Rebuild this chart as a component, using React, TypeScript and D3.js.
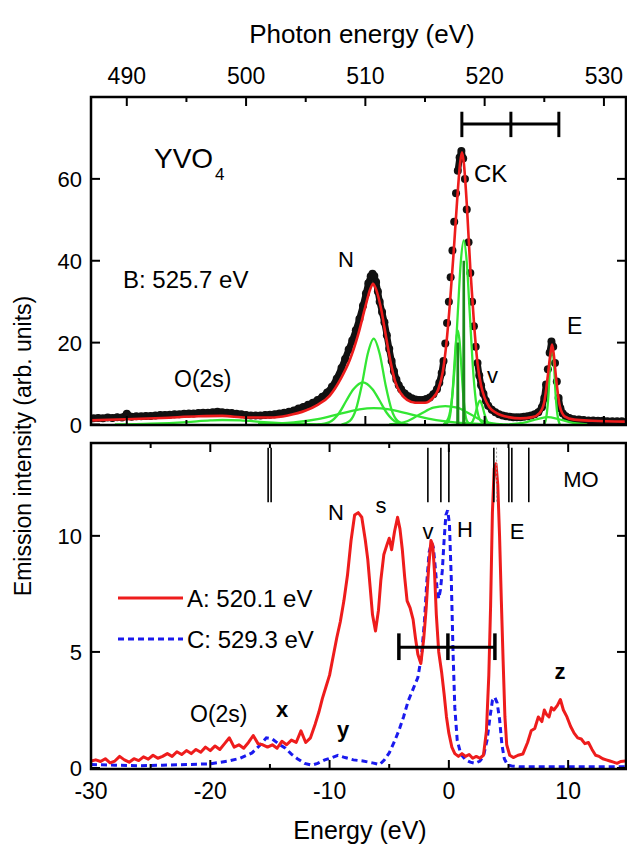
import React from 'react'
import * as d3 from 'd3'

// ---- upper panel (YVO4, excitation B: 525.7 eV), [energy eV, intensity] ----
const dotsB: [number, number][] = [
  [-29.8, 1.5], [-29.4, 1.6], [-29.0, 1.5], [-28.6, 1.7], [-28.2, 1.6], [-27.8, 1.8], [-27.4, 1.7],
  [-27.0, 2.6], [-26.6, 1.9], [-26.2, 2.0], [-25.8, 2.0], [-25.4, 2.1], [-25.0, 2.1], [-24.6, 2.2],
  [-24.2, 2.3], [-23.8, 2.3], [-23.4, 2.4], [-23.0, 2.5], [-22.6, 2.5], [-22.2, 2.6], [-21.8, 2.7],
  [-21.4, 2.7], [-21.0, 2.8], [-20.6, 2.9], [-20.2, 2.9], [-19.8, 3.0], [-19.4, 3.1], [-19.0, 3.0],
  [-18.6, 2.9], [-18.2, 2.8], [-17.8, 2.6], [-17.4, 2.5], [-17.0, 2.3], [-16.6, 2.2], [-16.2, 2.2],
  [-15.8, 2.2], [-15.4, 2.3], [-15.0, 2.4], [-14.6, 2.5], [-14.2, 2.7], [-13.8, 2.9], [-13.4, 3.1],
  [-13.0, 3.4], [-12.6, 3.9], [-12.2, 4.3], [-11.8, 4.8], [-11.4, 5.3], [-11.0, 6.0], [-10.6, 6.8],
  [-10.2, 7.8], [-9.8, 9.2], [-9.4, 11.2], [-9.0, 13.8], [-8.7, 16.0], [-8.4, 18.3], [-8.1, 20.5],
  [-7.8, 23.0], [-7.5, 25.8], [-7.2, 29.0], [-6.95, 32.0], [-6.75, 34.5], [-6.55, 36.2], [-6.4, 36.8],
  [-6.25, 36.3], [-6.1, 34.8], [-5.95, 32.5], [-5.8, 30.0], [-5.6, 27.5], [-5.4, 25.0], [-5.2, 21.8],
  [-5.0, 18.5], [-4.8, 15.5], [-4.6, 13.0], [-4.4, 11.0], [-4.2, 9.6], [-4.0, 8.6], [-3.7, 7.6],
  [-3.4, 6.9], [-3.1, 6.4], [-2.8, 6.1], [-2.5, 6.0], [-2.2, 6.0], [-1.9, 6.2], [-1.6, 6.6],
  [-1.3, 7.4], [-1.0, 8.6], [-0.8, 10.2], [-0.6, 12.6], [-0.45, 15.5], [-0.3, 19.8], [-0.15, 24.8],
  [0.0, 30.0], [0.15, 36.0], [0.3, 42.5], [0.45, 49.5], [0.6, 56.5], [0.75, 62.0], [0.9, 65.2],
  [1.05, 66.8], [1.2, 65.0], [1.35, 60.0], [1.5, 52.5], [1.65, 44.5], [1.8, 37.0], [1.95, 30.0],
  [2.1, 24.0], [2.25, 19.0], [2.4, 15.0], [2.55, 12.0], [2.7, 9.6], [2.9, 7.5], [3.1, 5.8],
  [3.3, 4.6], [3.6, 3.6], [3.9, 3.0], [4.2, 2.5], [4.5, 2.2], [4.8, 2.0], [5.1, 1.9], [5.4, 1.8],
  [5.7, 1.8], [6.0, 1.8], [6.3, 1.9], [6.6, 2.0], [6.9, 2.2], [7.2, 2.5], [7.5, 3.0], [7.8, 4.2],
  [8.0, 6.5], [8.15, 9.8], [8.3, 13.5], [8.45, 17.5], [8.6, 20.3], [8.75, 19.0], [8.9, 15.0],
  [9.05, 10.5], [9.2, 6.5], [9.35, 4.0], [9.55, 2.7], [9.8, 2.0], [10.1, 1.6], [10.5, 1.3],
  [10.9, 1.2], [11.3, 1.1], [11.7, 1.0], [12.1, 1.0], [12.5, 0.9], [12.9, 0.9], [13.3, 0.8],
  [13.7, 0.8], [14.1, 0.8], [14.5, 0.8],
]

const fitB: [number, number][] = [
  [-30, 1.0], [-27, 1.3], [-24, 1.6], [-21, 2.0], [-19, 2.1], [-17, 1.7], [-15, 1.7], [-13.5, 2.2],
  [-12, 3.4], [-11, 4.8], [-10, 7.0], [-9, 11.5], [-8.3, 15.8], [-7.6, 22.0], [-7.0, 28.8],
  [-6.6, 33.0], [-6.35, 34.4], [-6.1, 33.0], [-5.7, 28.5], [-5.3, 22.0], [-4.9, 15.5], [-4.5, 10.5],
  [-4.0, 7.5], [-3.5, 6.0], [-2.8, 5.3], [-2.0, 5.3], [-1.4, 6.3], [-0.9, 8.5], [-0.5, 13.0],
  [-0.2, 20.0], [0.1, 30.0], [0.4, 42.0], [0.7, 55.0], [0.95, 64.0], [1.1, 66.5], [1.25, 64.0],
  [1.5, 54.0], [1.8, 38.0], [2.1, 25.0], [2.4, 15.0], [2.7, 9.5], [3.0, 6.5], [3.4, 4.2],
  [4.0, 2.8], [5.0, 1.8], [6.0, 1.5], [7.0, 1.8], [7.6, 2.8], [8.0, 5.5], [8.3, 12.0],
  [8.5, 17.0], [8.65, 19.5], [8.8, 17.0], [9.0, 11.0], [9.3, 4.5], [9.7, 2.0], [10.5, 1.2],
  [12, 0.9], [14.8, 0.7],
]

// fitted components (green)
const compO2s: [number, number][] = [
  [-28, 0], [-25, 0.2], [-22, 0.6], [-20, 1.0], [-19, 1.1], [-17.5, 1.0], [-15.5, 0.6], [-13, 0.2], [-10, 0],
]
const compWide: [number, number][] = [
  [-16, 0.1], [-13, 0.5], [-11, 1.3], [-9, 2.7], [-7.5, 3.7], [-6.3, 4.0], [-5, 3.7], [-3.5, 2.7],
  [-1.5, 1.3], [0.5, 0.5], [3, 0.1], [5, 0],
]
const compN2: [number, number][] = [
  [-11, 0], [-10, 0.6], [-9.2, 2.8], [-8.6, 5.8], [-8, 8.6], [-7.2, 10.3], [-6.4, 8.6], [-5.8, 5.8],
  [-5.2, 2.8], [-4.4, 0.6], [-3.4, 0],
]
const compN1: [number, number][] = [
  [-9, 0], [-8.3, 0.9], [-7.8, 3.6], [-7.3, 9.6], [-6.8, 17.3], [-6.3, 21], [-5.8, 17.3], [-5.3, 9.6],
  [-4.8, 3.6], [-4.3, 0.9], [-3.6, 0],
]
const compBase: [number, number][] = [
  [-5, 0], [-3.5, 0.8], [-2.3, 2.7], [-1.3, 4.1], [-0.3, 4.5], [0.7, 4.1], [1.7, 2.7], [2.9, 0.8], [4.5, 0],
]
const compCK2: [number, number][] = [
  [-0.35, 0], [-0.05, 0.7], [0.15, 3.1], [0.3, 7.5], [0.45, 14], [0.6, 20.3], [0.75, 23], [0.9, 20.3],
  [1.05, 14], [1.2, 7.5], [1.35, 3.1], [1.55, 0.7], [1.85, 0],
]
const compCK1: [number, number][] = [
  [-0.45, 0], [-0.05, 1.5], [0.25, 6.1], [0.5, 14.6], [0.75, 27.3], [1.0, 39.7], [1.25, 45], [1.5, 39.7],
  [1.75, 27.3], [2.0, 14.6], [2.25, 6.1], [2.55, 1.5], [2.95, 0],
]
const compV: [number, number][] = [
  [1.7, 0], [2.0, 0.8], [2.2, 2.4], [2.4, 4.6], [2.6, 5.8], [2.8, 4.6], [3.0, 2.4], [3.2, 0.8], [3.5, 0],
]
const compE: [number, number][] = [
  [8.0, 0], [8.2, 2.4], [8.35, 7.3], [8.5, 15.4], [8.65, 19], [8.8, 15.4], [8.95, 7.3], [9.1, 2.4], [9.3, 0],
]
const compEbroad: [number, number][] = [
  [5, 0], [6.5, 0.6], [7.5, 1.4], [8.3, 1.8], [9.1, 1.4], [10.1, 0.6], [11.6, 0],
]
const greenComps = [compO2s, compWide, compN2, compN1, compBase, compCK2, compCK1, compV, compE, compEbroad]
// two very narrow components (dark green sticks)
const stickE = [0.75, 1.25]
const stickH = [20, 40]

// ---- lower panel (MO), excitation A (red) and C (blue) ----
const spectrumA: [number, number][] = [
  [-30, 0.3], [-29.6, 0.35], [-29.2, 0.28], [-28.8, 0.4], [-28.4, 0.22], [-28, 0.3], [-27.6, 0.5],
  [-27.2, 0.35], [-26.8, 0.25], [-26.4, 0.4], [-26, 0.32], [-25.6, 0.48], [-25.2, 0.38], [-24.8, 0.55],
  [-24.4, 0.42], [-24, 0.5], [-23.6, 0.62], [-23.2, 0.5], [-22.8, 0.7], [-22.4, 0.58], [-22, 0.75],
  [-21.6, 0.62], [-21.2, 0.8], [-20.8, 0.68], [-20.4, 0.9], [-20, 0.75], [-19.6, 0.95], [-19.2, 0.8],
  [-18.8, 1.05], [-18.4, 1.3], [-18, 0.9], [-17.6, 1.0], [-17.2, 0.85], [-16.8, 1.1], [-16.4, 1.4],
  [-16, 1.05], [-15.6, 1.0], [-15.2, 0.9], [-14.8, 1.0], [-14.4, 0.85], [-14, 1.15], [-13.6, 1.0],
  [-13.2, 1.2], [-12.8, 1.1], [-12.4, 1.6], [-12, 1.1], [-11.6, 1.3], [-11.2, 1.9], [-10.9, 2.4],
  [-10.6, 3.0], [-10.3, 3.5], [-10, 4.0], [-9.7, 4.8], [-9.4, 5.6], [-9.1, 6.3], [-8.8, 7.2],
  [-8.5, 8.3], [-8.2, 9.8], [-7.9, 10.9], [-7.6, 11.0], [-7.3, 10.8], [-7.0, 9.8], [-6.8, 9.0],
  [-6.6, 7.8], [-6.4, 6.6], [-6.15, 5.9], [-5.9, 6.8], [-5.7, 8.1], [-5.45, 9.2], [-5.2, 9.6],
  [-5.0, 9.9], [-4.8, 9.4], [-4.55, 10.2], [-4.3, 10.8], [-4.1, 10.3], [-3.9, 9.4], [-3.7, 8.2],
  [-3.5, 7.2], [-3.25, 6.9], [-3.0, 6.4], [-2.8, 5.6], [-2.6, 4.9], [-2.35, 4.5], [-2.1, 5.6],
  [-1.9, 6.9], [-1.7, 8.6], [-1.5, 9.8], [-1.35, 9.6], [-1.2, 8.4], [-1.05, 6.6], [-0.85, 5.0],
  [-0.6, 4.1], [-0.4, 3.2], [-0.2, 2.2], [0, 1.5], [0.25, 0.9], [0.5, 0.62], [0.8, 0.5], [1.1, 0.62],
  [1.4, 0.5], [1.7, 0.58], [2.0, 0.42], [2.3, 0.5], [2.6, 0.42], [2.9, 0.55], [3.15, 1.6], [3.35, 4.0],
  [3.5, 7.0], [3.65, 11.0], [3.8, 12.9], [3.95, 13.1], [4.1, 12.2], [4.25, 10.0], [4.4, 7.2],
  [4.55, 4.6], [4.7, 2.2], [4.85, 1.0], [5.1, 0.55], [5.4, 0.45], [5.8, 0.55], [6.2, 0.6], [6.6, 1.1],
  [6.9, 1.6], [7.2, 1.7], [7.5, 2.2], [7.8, 2.0], [8.0, 2.5], [8.2, 2.3], [8.4, 2.2], [8.6, 2.6],
  [8.8, 2.5], [9.1, 2.7], [9.35, 2.95], [9.6, 2.5], [9.9, 2.2], [10.2, 1.8], [10.5, 1.5], [10.8, 1.3],
  [11.1, 1.25], [11.4, 1.05], [11.7, 1.1], [12.0, 0.8], [12.3, 0.55], [12.6, 0.5], [12.9, 0.4],
  [13.2, 0.35], [13.5, 0.3], [13.8, 0.25], [14.1, 0.2], [14.4, 0.28], [14.8, 0.3],
]

const spectrumC: [number, number][] = [
  [-30, 0.15], [-28, 0.12], [-26, 0.1], [-24, 0.12], [-22, 0.15], [-20, 0.18], [-18.5, 0.3],
  [-17.5, 0.42], [-16.5, 0.65], [-15.8, 1.0], [-15.3, 1.3], [-14.8, 1.25], [-14.3, 1.05], [-13.7, 0.85],
  [-13.2, 0.6], [-12.7, 0.4], [-12.1, 0.2], [-11.5, 0.12], [-11, 0.2], [-10.4, 0.35], [-9.8, 0.45],
  [-9.3, 0.55], [-8.7, 0.45], [-8, 0.35], [-7.2, 0.3], [-6.4, 0.22], [-5.8, 0.15], [-5.4, 0.35],
  [-5.0, 0.65], [-4.6, 1.1], [-4.2, 1.6], [-3.8, 2.2], [-3.4, 2.9], [-3.0, 3.4], [-2.6, 3.9],
  [-2.3, 4.8], [-2.05, 6.3], [-1.85, 8.0], [-1.65, 9.3], [-1.45, 9.7], [-1.3, 9.5], [-1.15, 8.7],
  [-1.0, 7.8], [-0.85, 7.3], [-0.7, 7.7], [-0.55, 8.5], [-0.4, 9.8], [-0.25, 10.9], [-0.1, 11.1],
  [0.05, 10.5], [0.2, 8.2], [0.35, 5.0], [0.5, 2.6], [0.7, 1.2], [1.0, 0.6], [1.4, 0.35], [1.8, 0.25],
  [2.2, 0.2], [2.6, 0.3], [2.9, 0.5], [3.2, 1.2], [3.45, 2.2], [3.65, 2.9], [3.85, 3.05], [4.05, 2.8],
  [4.25, 2.1], [4.45, 1.0], [4.65, 0.4], [4.9, 0.15], [5.3, 0.08], [6, 0.05], [8, 0.05], [10, 0.05],
  [12, 0.05], [14.8, 0.05],
]

// MO level markers (energies, eV) and the two brackets
const moLevels = [-15.15, -14.9, -1.76, -0.67, 0.0, 3.77, 5.03, 5.28, 6.7]
const bracketUpper = [1.09, 5.2, 9.22]
const bracketLower = [-4.19, -0.08, 3.86]

const photonTicks = [490, 495, 500, 505, 510, 515, 520, 525, 530]
const energyTicks = [-30, -25, -20, -15, -10, -5, 0, 5, 10]
const upperYTicks = [0, 20, 40, 60]
const lowerYTicks = [0, 5, 10]
const PHOTON_OFFSET = 517

const FONT = 'Liberation Sans, Arial, sans-serif'
const RED = '#ee1c1c'
const BLUE = '#1a1aee'
const GREEN = '#33e633'

const L = 91, R = 626
const UT = 97, UB = 425
const LT = 443, LB = 769

export default function App() {
  const x = d3.scaleLinear().domain([-30, 14.85]).range([L, R])
  const xPh = d3.scaleLinear().domain([-30 + PHOTON_OFFSET, 14.85 + PHOTON_OFFSET]).range([L, R])
  const yU = d3.scaleLinear().domain([0, 80]).range([424.5, UT])
  const yL = d3.scaleLinear().domain([0, 14]).range([768, LT])

  const lineU = d3.line<[number, number]>().x(d => x(d[0])).y(d => yU(d[1])).curve(d3.curveMonotoneX)
  const lineUlin = d3.line<[number, number]>().x(d => x(d[0])).y(d => yU(d[1]))
  const lineL = d3.line<[number, number]>().x(d => x(d[0])).y(d => yL(d[1]))

  // dense data reads as a solid band; on steep flanks the single points show
  const bandSegs = d3.pairs(dotsB).filter(([a, b]) => Math.abs(yU(a[1]) - yU(b[1])) < 14)

  const tick = (major: boolean) => (major ? 9 : 5)

  return (
    <svg width={627} height={846} style={{ position: 'absolute', left: 0, top: 0, background: '#fff' }}
      fontFamily={FONT}>
      <rect width={627} height={846} fill="#fff" />
      <defs>
        <clipPath id="clipU"><rect x={L} y={UT} width={R - L} height={UB - UT} /></clipPath>
        <clipPath id="clipL"><rect x={L} y={LT} width={R - L} height={LB - LT} /></clipPath>
      </defs>

      {/* titles */}
      <text x={362} y={43} fontSize={26} textAnchor="middle">Photon energy (eV)</text>
      <text x={360} y={839} fontSize={25} textAnchor="middle">Energy (eV)</text>
      <text transform="translate(31,446) rotate(-90)" fontSize={23} textAnchor="middle">
        Emission intensity (arb. units)
      </text>

      {/* ===== upper panel ===== */}
      <g clipPath="url(#clipU)">
        {bandSegs.map((s, i) => (
          <path key={'b' + i} d={lineUlin(s) || ''} fill="none" stroke="#111" strokeWidth={6.5} strokeLinecap="round" />
        ))}
        {dotsB.map((d, i) => (
          <circle key={i} cx={x(d[0])} cy={yU(d[1])} r={4} fill="#111" />
        ))}
        {greenComps.map((c, i) => (
          <path key={i} d={lineU(c) || ''} fill="none" stroke={GREEN} strokeWidth={2.3} />
        ))}
        {stickE.map((e, i) => (
          <path key={'s' + i} d={lineUlin([[e - 0.03, 0], [e, stickH[i]], [e + 0.03, 0]]) || ''}
            fill="none" stroke="#1a8a1a" strokeWidth={2.5} />
        ))}
        <path d={lineU(fitB) || ''} fill="none" stroke={RED} strokeWidth={2.6} />
      </g>
      <rect x={L} y={UT} width={R - L} height={UB - UT} fill="none" stroke="#000" strokeWidth={2.5} />
      {photonTicks.map(t => (
        <g key={t}>
          <line x1={xPh(t)} x2={xPh(t)} y1={UT} y2={UT + tick(t % 10 === 0)} stroke="#000" strokeWidth={2} />
          <line x1={xPh(t)} x2={xPh(t)} y1={UB} y2={UB - tick(t % 10 === 0)} stroke="#000" strokeWidth={2} />
          {t % 10 === 0 && (
            <text x={xPh(t)} y={84} fontSize={23} textAnchor="middle">{t}</text>
          )}
        </g>
      ))}
      {upperYTicks.map(t => (
        <g key={t}>
          <line x1={L} x2={L + 9} y1={yU(t)} y2={yU(t)} stroke="#000" strokeWidth={2} />
          <line x1={R} x2={R - 9} y1={yU(t)} y2={yU(t)} stroke="#000" strokeWidth={2} />
          <text x={82} y={yU(t) + 8} fontSize={22} textAnchor="end">{t}</text>
        </g>
      ))}
      {/* CK bracket */}
      <line x1={x(bracketUpper[0])} x2={x(bracketUpper[2])} y1={yU(73.4)} y2={yU(73.4)} stroke="#000" strokeWidth={3} />
      {bracketUpper.map((e, i) => (
        <line key={i} x1={x(e)} x2={x(e)} y1={yU(76.4)} y2={yU(70.2)} stroke="#000" strokeWidth={3} />
      ))}
      <text x={154} y={168} fontSize={28}>YVO</text>
      <text x={215} y={180} fontSize={17}>4</text>
      <text x={123} y={288} fontSize={24}>B: 525.7 eV</text>
      <text x={346} y={267} fontSize={22} textAnchor="middle">N</text>
      <text x={474} y={182} fontSize={24}>CK</text>
      <text x={567} y={334} fontSize={23}>E</text>
      <text x={487} y={383} fontSize={22}>v</text>
      <text x={174} y={387} fontSize={23}>O(2s)</text>

      {/* ===== lower panel ===== */}
      <g clipPath="url(#clipL)">
        <path d={lineL(spectrumC) || ''} fill="none" stroke={BLUE} strokeWidth={3} strokeDasharray="6,4" />
        <path d={lineL(spectrumA) || ''} fill="none" stroke={RED} strokeWidth={3} strokeLinejoin="round" />
      </g>
      {moLevels.map((e, i) => (
        <line key={i} x1={x(e)} x2={x(e)} y1={yL(13.8)} y2={yL(11.45)} stroke="#000" strokeWidth={1.6} />
      ))}
      <line x1={x(4.0)} x2={x(4.0)} y1={yL(13.8)} y2={yL(11.45)} stroke="#999" strokeWidth={1} strokeDasharray="2,2" />
      <line x1={x(bracketLower[0])} x2={x(bracketLower[2])} y1={yL(5.2)} y2={yL(5.2)} stroke="#000" strokeWidth={3} />
      {bracketLower.map((e, i) => (
        <line key={i} x1={x(e)} x2={x(e)} y1={yL(5.8)} y2={yL(4.65)} stroke="#000" strokeWidth={3.5} />
      ))}
      <rect x={L} y={LT} width={R - L} height={LB - LT} fill="none" stroke="#000" strokeWidth={2.5} />
      {energyTicks.map(t => (
        <g key={t}>
          <line x1={x(t)} x2={x(t)} y1={LT} y2={LT + tick(t % 10 === 0)} stroke="#000" strokeWidth={2} />
          <line x1={x(t)} x2={x(t)} y1={LB} y2={LB - tick(t % 10 === 0)} stroke="#000" strokeWidth={2} />
          {t % 10 === 0 && (
            <text x={x(t)} y={799} fontSize={23} textAnchor="middle">{t}</text>
          )}
        </g>
      ))}
      {lowerYTicks.map(t => (
        <g key={t}>
          <line x1={L} x2={L + 9} y1={yL(t)} y2={yL(t)} stroke="#000" strokeWidth={2} />
          <line x1={R} x2={R - 9} y1={yL(t)} y2={yL(t)} stroke="#000" strokeWidth={2} />
          <text x={82} y={yL(t) + 8} fontSize={22} textAnchor="end">{t}</text>
        </g>
      ))}
      {/* legend */}
      <line x1={118} x2={183} y1={598} y2={598} stroke={RED} strokeWidth={3} />
      <text x={187} y={607} fontSize={24}>A: 520.1 eV</text>
      <line x1={118} x2={183} y1={639} y2={639} stroke={BLUE} strokeWidth={3} strokeDasharray="6,4" />
      <text x={187} y={648} fontSize={24}>C: 529.3 eV</text>
      {/* peak labels */}
      <text x={336} y={520} fontSize={22} textAnchor="middle">N</text>
      <text x={381} y={513} fontSize={22} textAnchor="middle">s</text>
      <text x={428} y={539} fontSize={22} textAnchor="middle">v</text>
      <text x={465} y={537} fontSize={22} textAnchor="middle">H</text>
      <text x={517} y={539} fontSize={22} textAnchor="middle">E</text>
      <text x={581} y={487} fontSize={22} textAnchor="middle">MO</text>
      <text x={560} y={679} fontSize={22} textAnchor="middle" fontWeight="bold">z</text>
      <text x={343} y={737} fontSize={22} textAnchor="middle" fontWeight="bold">y</text>
      <text x={282} y={717} fontSize={22} textAnchor="middle" fontWeight="bold">x</text>
      <text x={190} y={722} fontSize={23}>O(2s)</text>
    </svg>
  )
}
